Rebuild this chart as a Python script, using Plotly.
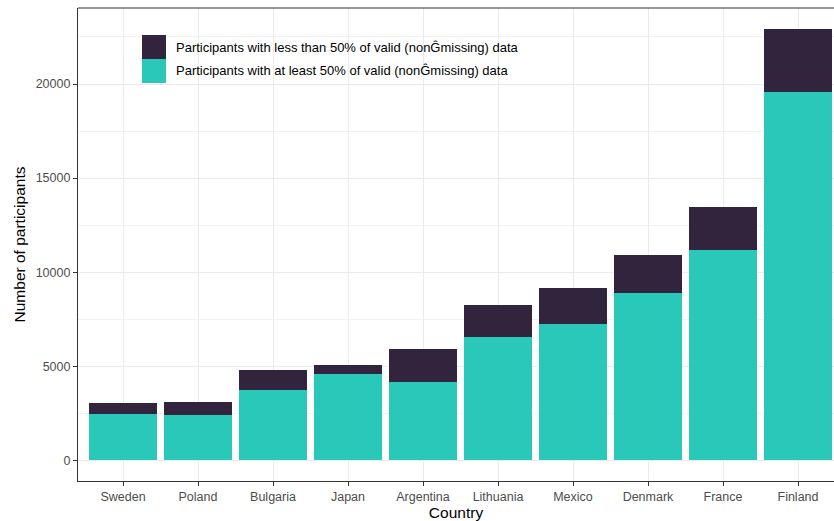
import plotly.graph_objects as go

countries = ["Sweden", "Poland", "Bulgaria", "Japan", "Argentina",
             "Lithuania", "Mexico", "Denmark", "France", "Finland"]
valid_at_least_50 = [2470, 2420, 3750, 4600, 4180, 6570, 7260, 8910, 11200, 19600]
totals = [3060, 3110, 4810, 5080, 5930, 8270, 9180, 10930, 13480, 22950]
valid_less_50 = [t - v for t, v in zip(totals, valid_at_least_50)]

y_tick_vals = [0, 5000, 10000, 15000, 20000]
y_tick_text = ["0", "5000", "10000", "15000", "20000"]
y_minor_vals = [2500, 7500, 12500, 17500, 22500]

label_less = "Participants with less than 50% of valid (nonG\u0302missing) data"
label_least = "Participants with at least 50% of valid (nonG\u0302missing) data"

teal = "#2AC8B8"
dark = "#32243D"

x_idx = list(range(len(countries)))

fig = go.Figure()
fig.add_trace(go.Bar(x=x_idx, y=valid_at_least_50, name=label_least,
                     marker=dict(color=teal, line=dict(width=0)), showlegend=False))
fig.add_trace(go.Bar(x=x_idx, y=valid_less_50, name=label_less,
                     marker=dict(color=dark, line=dict(width=0)), showlegend=False))

font_family = "Liberation Sans, Arial, sans-serif"

W, H = 834, 521
ML, MR, MT, MB = 78, 0, 8, 40

fig.update_layout(
    width=W, height=H,
    barmode="stack", bargap=0.1,
    plot_bgcolor="white", paper_bgcolor="white",
    margin=dict(l=ML, r=MR, t=MT, b=MB, autoexpand=False),
    font=dict(family=font_family, size=12.5, color="#4D4D4D"),
    xaxis=dict(
        range=[-0.6, 9.48],
        tickmode="array", tickvals=x_idx, ticktext=countries,
        showgrid=True, gridcolor="#EBEBEB", gridwidth=1.1,
        showline=True, linecolor="#333333", linewidth=1.1,
        ticks="outside", ticklen=4, tickcolor="#333333", tickwidth=1.1,
        tickfont=dict(size=12.5, color="#4D4D4D"),
        title=dict(text="Country", font=dict(size=15.5, color="black"), standoff=2),
        zeroline=False,
    ),
    yaxis=dict(
        range=[-1100, 24040],
        tickmode="array", tickvals=y_tick_vals, ticktext=y_tick_text,
        showgrid=True, gridcolor="#EBEBEB", gridwidth=1.1,
        minor=dict(tickvals=y_minor_vals,
                   showgrid=True, gridcolor="#F2F2F2", gridwidth=0.6),
        showline=True, linecolor="#333333", linewidth=1.1,
        ticks="outside", ticklen=4, tickcolor="#333333", tickwidth=1.1,
        tickfont=dict(size=12.5, color="#4D4D4D"),
        title=dict(text="Number of participants", font=dict(size=15.5, color="black"), standoff=6),
        zeroline=False,
    ),
)

# top panel border
fig.add_shape(type="line", xref="paper", yref="paper", x0=0, x1=1, y0=1, y1=1,
              line=dict(color="#333333", width=1.1))

# manual legend (keys 24x24 px), positions in figure pixels
pw = W - ML - MR
ph = H - MT - MB
def px_x(px):
    return (px - ML) / pw
def px_y(py):
    return (H - MB - py) / ph

for (top, col, lab) in [(35, dark, label_less), (59, teal, label_least)]:
    fig.add_shape(type="rect", xref="paper", yref="paper",
                  x0=px_x(142), x1=px_x(166),
                  y0=px_y(top + 24), y1=px_y(top),
                  fillcolor=col, line=dict(width=0), layer="above")
    fig.add_annotation(xref="paper", yref="paper",
                       x=px_x(174), y=px_y(top + 12),
                       text=lab, showarrow=False, xanchor="left", yanchor="middle",
                       font=dict(size=13, color="black", family=font_family))

fig.write_html("out.html",
               config={"displayModeBar": False},
               post_script="document.body.style.margin='0';document.body.style.overflow='hidden';")
